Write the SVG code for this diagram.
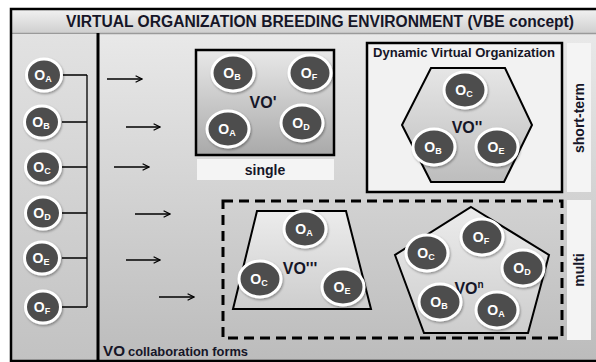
<svg xmlns="http://www.w3.org/2000/svg" width="596" height="362" viewBox="0 0 596 362">
  <defs>
    <linearGradient id="bgGrad" x1="0" y1="0" x2="0" y2="1">
      <stop offset="0" stop-color="#ececec"/>
      <stop offset="1" stop-color="#bcbcbc"/>
    </linearGradient>
    <linearGradient id="titleGrad" x1="0" y1="0" x2="0" y2="1">
      <stop offset="0" stop-color="#f2f2f2"/>
      <stop offset="1" stop-color="#cfcfcf"/>
    </linearGradient>
    <linearGradient id="panelGrad" x1="0" y1="0" x2="0" y2="1">
      <stop offset="0" stop-color="#e2e2e2"/>
      <stop offset="1" stop-color="#c2c2c2"/>
    </linearGradient>
    <linearGradient id="voGrad" x1="0" y1="0" x2="0" y2="1">
      <stop offset="0" stop-color="#e8e8e8"/>
      <stop offset="1" stop-color="#a9a9a9"/>
    </linearGradient>
    <linearGradient id="shapeGrad" x1="0" y1="0" x2="0" y2="1">
      <stop offset="0" stop-color="#e6e6e6"/>
      <stop offset="1" stop-color="#bdbdbd"/>
    </linearGradient>
    <linearGradient id="lightGrad" x1="0" y1="0" x2="0" y2="1">
      <stop offset="0" stop-color="#ececec"/>
      <stop offset="1" stop-color="#cdcdcd"/>
    </linearGradient>
    <filter id="shadow" x="-30%" y="-30%" width="160%" height="160%">
      <feDropShadow dx="1" dy="1.5" stdDeviation="1.2" flood-color="#000" flood-opacity="0.35"/>
    </filter>
    <marker id="arrow" viewBox="0 0 10 10" refX="9" refY="5" markerWidth="8" markerHeight="8" markerUnits="userSpaceOnUse" orient="auto">
      <path d="M1,1 L9,5 L1,9" fill="none" stroke="#000" stroke-width="1.6"/>
    </marker>
    <style>
      .org ellipse { fill: #4d4d4d; stroke: #ffffff; stroke-width: 3; filter: url(#shadow); }
      .org text { font-family: "Liberation Sans", Arial, sans-serif; font-weight: bold; fill: #ffffff; font-size: 14px; text-anchor: middle; }
      .org .sub { font-size: 9px; }
      .lbl { font-family: "Liberation Sans", Arial, sans-serif; font-weight: bold; fill: #161628; }
      .vo { font-size: 16px; text-anchor: middle; }
      .tag { fill: #f4f4f4; }
      .frame { fill: none; stroke: #000; stroke-width: 2.5; }
      .conn { fill: none; stroke: #000; stroke-width: 1.3; }
      .arr { stroke: #000; stroke-width: 1.6; marker-end: url(#arrow); }
    </style>
  </defs>

  <!-- page background -->
  <rect x="0" y="0" width="596" height="362" fill="#ffffff"/>

  <!-- main environment frame -->
  <g id="environment">
    <rect x="11" y="9" width="600" height="352" fill="url(#bgGrad)"/>
    <rect x="11" y="9" width="600" height="24" fill="url(#titleGrad)"/>
    <line x1="11" y1="33.5" x2="596" y2="33.5" stroke="#9a9a9a" stroke-width="1.5"/>
    <rect x="11" y="34" width="87" height="327" fill="url(#panelGrad)"/>
    <rect x="11" y="9" width="600" height="352" class="frame"/>
    <line x1="98" y1="33" x2="98" y2="362" stroke="#000" stroke-width="3"/>
    <text class="lbl" x="320" y="27" font-size="16" text-anchor="middle" textLength="508" lengthAdjust="spacingAndGlyphs">VIRTUAL ORGANIZATION BREEDING ENVIRONMENT (VBE concept)</text>
    <text class="lbl" x="103" y="356"><tspan font-size="14.5" textLength="22" lengthAdjust="spacingAndGlyphs">VO</tspan><tspan font-size="12" dx="3" textLength="120" lengthAdjust="spacingAndGlyphs">collaboration forms</tspan></text>
  </g>

  <!-- connectors: member bracket and arrows -->
  <g id="connectors">
    <path class="conn" d="M62,75 H87 M62,122 H87 M62,167 H87 M62,213 H87 M62,258 H87 M62,307 H87 M87,75 V307"/>
    <line class="arr" x1="107" y1="79" x2="142" y2="79"/>
    <line class="arr" x1="126" y1="127" x2="160" y2="127"/>
    <line class="arr" x1="114" y1="167" x2="149" y2="167"/>
    <line class="arr" x1="135" y1="214" x2="170" y2="214"/>
    <line class="arr" x1="126" y1="260" x2="160" y2="260"/>
    <line class="arr" x1="159" y1="297" x2="194" y2="297"/>
  </g>

  <!-- VBE member organizations -->
  <g id="member-A" class="org"><ellipse cx="44" cy="75" rx="17.5" ry="16"/><text x="43" y="80">O<tspan class="sub" dy="2">A</tspan></text></g>
  <g id="member-B" class="org"><ellipse cx="42" cy="122" rx="17.5" ry="16"/><text x="41" y="127">O<tspan class="sub" dy="2">B</tspan></text></g>
  <g id="member-C" class="org"><ellipse cx="43" cy="167" rx="17.5" ry="16"/><text x="42" y="172">O<tspan class="sub" dy="2">C</tspan></text></g>
  <g id="member-D" class="org"><ellipse cx="43" cy="213" rx="17.5" ry="16"/><text x="42" y="218">O<tspan class="sub" dy="2">D</tspan></text></g>
  <g id="member-E" class="org"><ellipse cx="42" cy="258" rx="17.5" ry="16"/><text x="41" y="263">O<tspan class="sub" dy="2">E</tspan></text></g>
  <g id="member-F" class="org"><ellipse cx="43" cy="307" rx="17.5" ry="16"/><text x="42" y="312">O<tspan class="sub" dy="2">F</tspan></text></g>

  <!-- VO' : single, long-term -->
  <g id="vo-single">
    <rect x="196" y="50" width="138" height="105" fill="url(#voGrad)" stroke="#000" stroke-width="2.5"/>
    <text class="lbl vo" x="263" y="108">VO'</text>
    <g class="org"><ellipse cx="233" cy="73" rx="21" ry="18"/><text x="232" y="78">O<tspan class="sub" dy="2">B</tspan></text></g>
    <g class="org"><ellipse cx="310" cy="73" rx="21" ry="18"/><text x="309" y="78">O<tspan class="sub" dy="2">F</tspan></text></g>
    <g class="org"><ellipse cx="228" cy="129" rx="21" ry="18"/><text x="227" y="134">O<tspan class="sub" dy="2">A</tspan></text></g>
    <g class="org"><ellipse cx="302" cy="123" rx="21" ry="18"/><text x="301" y="128">O<tspan class="sub" dy="2">D</tspan></text></g>
  </g>
  <g id="tag-single">
    <rect class="tag" x="197" y="159" width="137" height="21"/>
    <text class="lbl" x="265" y="175" font-size="14" text-anchor="middle">single</text>
  </g>

  <!-- Dynamic Virtual Organization : VO'' -->
  <g id="vo-dynamic">
    <rect x="367" y="43" width="195" height="149" fill="#f2f2f2" stroke="#000" stroke-width="2.5"/>
    <text class="lbl" x="464" y="57" font-size="12" text-anchor="middle" textLength="182" lengthAdjust="spacingAndGlyphs">Dynamic Virtual Organization</text>
    <polygon points="431,68 505,68 532,125 504,182 431,182 402,125" fill="url(#shapeGrad)" stroke="#000" stroke-width="2"/>
    <text class="lbl vo" x="467" y="133">VO''</text>
    <g class="org"><ellipse cx="465" cy="90" rx="21" ry="18"/><text x="464" y="95">O<tspan class="sub" dy="2">C</tspan></text></g>
    <g class="org"><ellipse cx="434" cy="147" rx="21" ry="18"/><text x="433" y="152">O<tspan class="sub" dy="2">B</tspan></text></g>
    <g class="org"><ellipse cx="497" cy="147" rx="21" ry="18"/><text x="496" y="152">O<tspan class="sub" dy="2">E</tspan></text></g>
  </g>
  <g id="tag-short-term">
    <rect class="tag" x="567" y="43" width="24" height="149"/>
    <text class="lbl" transform="translate(584,118) rotate(-90)" font-size="14" text-anchor="middle">short-term</text>
  </g>

  <!-- multiple VOs -->
  <g id="vo-multi">
    <rect x="223" y="201" width="339" height="137" fill="none" stroke="#000" stroke-width="3" stroke-dasharray="10,6"/>
  </g>
  <g id="vo-triple">
    <polygon points="257,211 346,211 371,309 233,309" fill="url(#lightGrad)" stroke="#000" stroke-width="2"/>
    <text class="lbl vo" x="300" y="274">VO'''</text>
    <g class="org"><ellipse cx="305" cy="229" rx="21" ry="18"/><text x="304" y="234">O<tspan class="sub" dy="2">A</tspan></text></g>
    <g class="org"><ellipse cx="260" cy="279" rx="21" ry="18"/><text x="259" y="284">O<tspan class="sub" dy="2">C</tspan></text></g>
    <g class="org"><ellipse cx="343" cy="287" rx="21" ry="18"/><text x="342" y="292">O<tspan class="sub" dy="2">E</tspan></text></g>
  </g>
  <g id="vo-n">
    <polygon points="471,207 549,255 528,333 424,333 395,255" fill="url(#lightGrad)" stroke="#000" stroke-width="2"/>
    <text class="lbl vo" x="469" y="294">VO<tspan font-size="10" dy="-6">n</tspan></text>
    <g class="org"><ellipse cx="427" cy="253" rx="21" ry="18"/><text x="426" y="258">O<tspan class="sub" dy="2">C</tspan></text></g>
    <g class="org"><ellipse cx="482" cy="237" rx="21" ry="18"/><text x="481" y="242">O<tspan class="sub" dy="2">F</tspan></text></g>
    <g class="org"><ellipse cx="523" cy="268" rx="21" ry="18"/><text x="522" y="273">O<tspan class="sub" dy="2">D</tspan></text></g>
    <g class="org"><ellipse cx="440" cy="302" rx="21" ry="18"/><text x="439" y="307">O<tspan class="sub" dy="2">B</tspan></text></g>
    <g class="org"><ellipse cx="497" cy="310" rx="21" ry="18"/><text x="496" y="315">O<tspan class="sub" dy="2">A</tspan></text></g>
  </g>
  <g id="tag-multi">
    <rect class="tag" x="567" y="200" width="24" height="140"/>
    <text class="lbl" transform="translate(584,270) rotate(-90)" font-size="14" text-anchor="middle">multi</text>
  </g>
</svg>
